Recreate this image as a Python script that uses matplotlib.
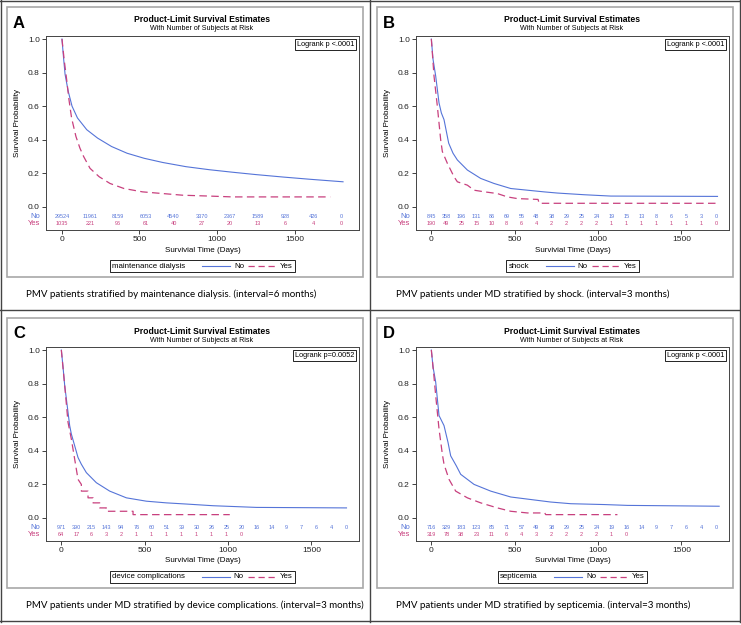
import matplotlib
matplotlib.use("Agg")
import matplotlib.pyplot as plt
from matplotlib.lines import Line2D
from matplotlib.patches import Rectangle
from matplotlib.offsetbox import AnchoredOffsetbox, HPacker, TextArea, DrawingArea

plt.rcParams['font.family'] = ['Liberation Sans', 'DejaVu Sans']

# --- curve data (days, survival) ---
a_no_t = [0, 10, 20, 40, 65, 100, 160, 230, 320, 420, 530, 650, 800, 950, 1100, 1250, 1430, 1600, 1813]
a_no_s = [1.0, 0.89, 0.79, 0.69, 0.60, 0.53, 0.46, 0.41, 0.36, 0.32, 0.29, 0.265, 0.24, 0.222, 0.207, 0.193, 0.178, 0.165, 0.15]
a_yes_t = [0, 15, 30, 45, 62, 90, 116, 140, 181, 240, 310, 400, 520, 650, 780, 950, 1100, 1730]
a_yes_s = [1.0, 0.87, 0.76, 0.64, 0.53, 0.42, 0.35, 0.30, 0.23, 0.18, 0.14, 0.11, 0.09, 0.08, 0.07, 0.065, 0.06, 0.06]

b_no_t = [0, 10, 26, 46, 60, 76, 104, 130, 156, 216, 296, 376, 476, 576, 676, 756, 916, 1076, 1716]
b_no_s = [1.0, 0.88, 0.78, 0.62, 0.56, 0.52, 0.38, 0.32, 0.28, 0.22, 0.17, 0.14, 0.11, 0.10, 0.09, 0.083, 0.073, 0.065, 0.063]
b_yes_t = [0, 16, 36, 56, 66, 96, 136, 156, 216, 256, 320, 396, 456, 516, 640, 646, 1716]
b_yes_s = [1.0, 0.78, 0.60, 0.40, 0.33, 0.26, 0.18, 0.15, 0.13, 0.10, 0.09, 0.08, 0.06, 0.05, 0.045, 0.022, 0.022]

c_no_t = [0, 10, 20, 50, 60, 80, 100, 120, 150, 210, 290, 390, 510, 630, 750, 910, 1170, 1710]
c_no_s = [1.0, 0.90, 0.79, 0.55, 0.50, 0.43, 0.36, 0.32, 0.27, 0.21, 0.16, 0.12, 0.10, 0.09, 0.083, 0.073, 0.063, 0.06]
c_yes_t = [0, 20, 40, 60, 80, 100, 120, 120, 160, 160, 190, 190, 230, 230, 270, 270, 430, 430, 1010]
c_yes_s = [1.0, 0.79, 0.57, 0.47, 0.35, 0.23, 0.20, 0.16, 0.16, 0.12, 0.12, 0.09, 0.09, 0.06, 0.06, 0.04, 0.04, 0.02, 0.02]

d_no_t = [0, 10, 26, 46, 76, 100, 116, 150, 176, 256, 356, 476, 596, 716, 836, 1036, 1176, 1726]
d_no_s = [1.0, 0.90, 0.81, 0.61, 0.55, 0.45, 0.37, 0.31, 0.26, 0.20, 0.16, 0.125, 0.11, 0.095, 0.085, 0.08, 0.075, 0.07]
d_yes_t = [0, 15, 26, 46, 66, 76, 106, 146, 216, 296, 396, 476, 576, 680, 686, 1116]
d_yes_s = [1.0, 0.85, 0.73, 0.53, 0.38, 0.32, 0.23, 0.16, 0.12, 0.09, 0.06, 0.04, 0.03, 0.03, 0.02, 0.02]

# --- number at risk ---
risk_t_a = [0, 180, 360, 540, 720, 900, 1080, 1260, 1440, 1620, 1800]
risk_t_3m = [0, 90, 180, 270, 360, 450, 540, 630, 720, 810, 900, 990, 1080, 1170, 1260, 1350, 1440, 1530, 1620, 1710]

a_risk_no = [29524, 11961, 8159, 6053, 4540, 3370, 2367, 1589, 928, 426, 0]
a_risk_yes = [1035, 221, 96, 61, 40, 27, 20, 13, 6, 4, 0]
b_risk_no = [845, 358, 196, 131, 86, 69, 55, 48, 38, 29, 25, 24, 19, 15, 13, 8, 6, 5, 3, 0]
b_risk_yes = [190, 49, 25, 15, 10, 8, 6, 4, 2, 2, 2, 2, 1, 1, 1, 1, 1, 1, 1, 0]
c_risk_no = [971, 390, 215, 143, 94, 76, 60, 51, 39, 30, 26, 25, 20, 16, 14, 9, 7, 6, 4, 0]
c_risk_yes = [64, 17, 6, 3, 2, 1, 1, 1, 1, 1, 1, 1, 0]
d_risk_no = [716, 329, 183, 123, 85, 71, 57, 49, 38, 29, 25, 24, 19, 16, 14, 9, 7, 6, 4, 0]
d_risk_yes = [319, 78, 38, 23, 11, 6, 4, 3, 2, 2, 2, 2, 1, 0]

letters = ['A', 'B', 'C', 'D']
strata = ['maintenance dialysis', 'shock', 'device complications', 'septicemia']
pvalues = ['Logrank p <.0001', 'Logrank p <.0001', 'Logrank p=0.0052', 'Logrank p <.0001']
captions = ['PMV patients stratified by maintenance dialysis. (interval=6 months)',
            'PMV patients under MD stratified by shock. (interval=3 months)',
            'PMV patients under MD stratified by device complications. (interval=3 months)',
            'PMV patients under MD stratified by septicemia. (interval=3 months)']

BLUE = '#5574d8'
PINK = '#c8407e'

W, H = 741, 625
fig = plt.figure(figsize=(W / 100, H / 100), dpi=100)


def fx(px):
    return px / W


def fy(py):
    return 1 - py / H


panels = [
    (0, 0, (-103, 1916), a_no_t, a_no_s, a_yes_t, a_yes_s, risk_t_a, a_risk_no, a_risk_yes),
    (370, 0, (-92, 1785), b_no_t, b_no_s, b_yes_t, b_yes_s, risk_t_3m, b_risk_no, b_risk_yes),
    (0, 311, (-92, 1785), c_no_t, c_no_s, c_yes_t, c_yes_s, risk_t_3m, c_risk_no, c_risk_yes),
    (370, 311, (-92, 1785), d_no_t, d_no_s, d_yes_t, d_yes_s, risk_t_3m, d_risk_no, d_risk_yes),
]

for i, (ox, oy, xlim, tn, sn, ty, sy, rt, rn, ry) in enumerate(panels):
    # grey SAS graph frame
    fig.add_artist(Rectangle((fx(ox + 7), fy(oy + 277)), 356 / W, 270 / H,
                             transform=fig.transFigure, fill=False, ec='#a8a8a8', lw=1.2))

    ax = fig.add_axes([fx(ox + 46), fy(oy + 230), 313 / W, 194 / H])
    ax.plot(tn, sn, color=BLUE, lw=0.8)
    ax.plot(ty, sy, color=PINK, lw=0.9, dashes=(6, 3.5))
    ax.set_xlim(xlim)
    ax.set_ylim(-0.137, 1.018)
    ax.set_yticks([0, 0.2, 0.4, 0.6, 0.8, 1.0])
    ax.set_yticklabels(['0.0', '0.2', '0.4', '0.6', '0.8', '1.0'])
    ax.set_xticks([0, 500, 1000, 1500])
    ax.tick_params(labelsize=6, length=3, width=0.6, pad=1.5, colors='#222')
    for sp in ax.spines.values():
        sp.set_color('#444')
        sp.set_linewidth(0.7)

    # numbers at risk inside the frame
    for t, n in zip(rt, rn):
        ax.text(t, -0.054, str(n), fontsize=4, color=BLUE, ha='center', va='center')
    for t, n in zip(rt, ry):
        ax.text(t, -0.101, str(n), fontsize=4, color=PINK, ha='center', va='center')
    ax.text(-0.018, -0.054, 'No', transform=ax.get_yaxis_transform(),
            fontsize=5.5, color=BLUE, ha='right', va='center')
    ax.text(-0.018, -0.101, 'Yes', transform=ax.get_yaxis_transform(),
            fontsize=5.5, color=PINK, ha='right', va='center')

    ax.text(0.984, 0.974, pvalues[i], transform=ax.transAxes, fontsize=5.3,
            ha='right', va='top',
            bbox=dict(boxstyle='square,pad=0.25', fc='white', ec='black', lw=0.6))

    # titles and labels
    fig.text(fx(ox + 19), fy(oy + 23), letters[i], fontsize=12, fontweight='bold',
             ha='center', va='center')
    fig.text(fx(ox + 202), fy(oy + 20), 'Product-Limit Survival Estimates', fontsize=6.2,
             fontweight='bold', ha='center', va='center')
    fig.text(fx(ox + 202), fy(oy + 29), 'With Number of Subjects at Risk', fontsize=5.1,
             ha='center', va='center')
    fig.text(fx(ox + 18), fy(oy + 123), 'Survival Probability', fontsize=5.8,
             rotation=90, ha='center', va='center')
    fig.text(fx(ox + 202.5), fy(oy + 250), 'Survivial Time (Days)', fontsize=5.8,
             ha='center', va='center')

    # legend box: stratum name, then the two line samples
    items = [TextArea(strata[i], textprops=dict(fontsize=5.7)), DrawingArea(6, 4)]
    for lab, col, style in [('No', BLUE, dict(lw=0.8)), ('Yes', PINK, dict(lw=0.9, dashes=(5, 3)))]:
        da = DrawingArea(20, 4)
        da.add_artist(Line2D([0, 20], [2, 2], color=col, **style))
        items.append(da)
        items.append(TextArea(lab, textprops=dict(fontsize=5.7)))
    pack = HPacker(children=items, align='center', pad=0, sep=3)
    box = AnchoredOffsetbox(loc='center', child=pack, pad=0.15, borderpad=0, frameon=True,
                            bbox_to_anchor=(fx(ox + 202.5), fy(oy + 266)),
                            bbox_transform=fig.transFigure)
    box.patch.set_edgecolor('black')
    box.patch.set_linewidth(0.6)
    fig.add_artist(box)

    fig.text(fx(ox + 26), fy(oy + 294), captions[i], fontsize=7, family='Lato',
             ha='left', va='center')

# cell borders
for x in [1, 370, 740]:
    fig.add_artist(Line2D([fx(x), fx(x)], [fy(0), fy(622)], transform=fig.transFigure,
                          color='#444', lw=1))
for y in [1, 310, 621]:
    fig.add_artist(Line2D([fx(0), fx(741)], [fy(y), fy(y)], transform=fig.transFigure,
                          color='#444', lw=1))

fig.savefig('out.png', dpi=100)
